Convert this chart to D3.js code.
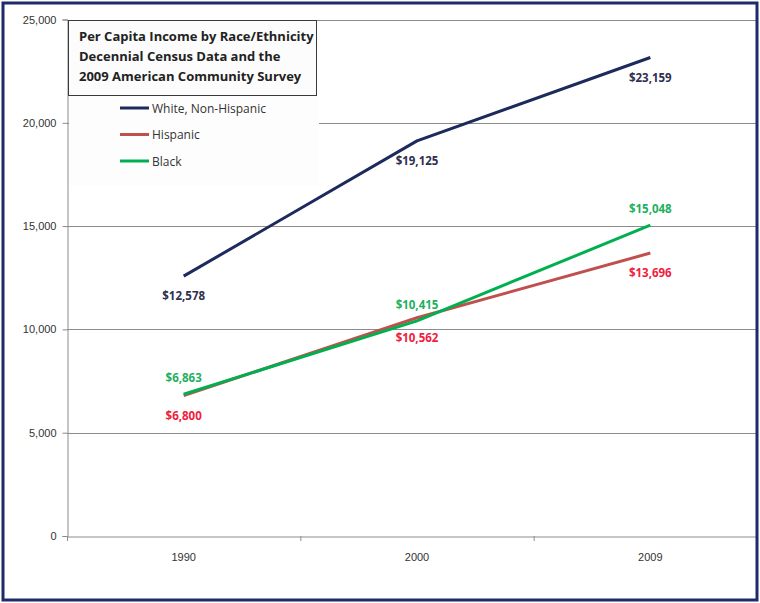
<!DOCTYPE html>
<html>
<head>
<meta charset="utf-8">
<script src="https://cdn.jsdelivr.net/npm/d3@7"></script>
<style>
  html, body { margin: 0; padding: 0; background: #fff; }
  svg { display: block; font-family: "Open Sans", Lato, sans-serif; }
</style>
</head>
<body>
<svg id="chart" width="760" height="603"></svg>
<script>
// Per capita income by race/ethnicity
const years = ["1990", "2000", "2009"];
const white = [12578, 19125, 23159];
const hispanic = [6800, 10562, 13696];
const black = [6863, 10415, 15048];
const yTicks = [0, 5000, 10000, 15000, 20000, 25000];
const seriesNames = ["White, Non-Hispanic", "Hispanic", "Black"];
const titleLines = [
  "Per Capita Income by Race/Ethnicity",
  "Decennial Census Data and the",
  "2009 American Community  Survey"
];

const svg = d3.select("#chart");
const W = 760, H = 603;
const plot = { left: 67, right: 767, top: 19.5, bottom: 536 };

const series = [
  { name: seriesNames[0], values: white, color: "#1c2a5c", label: "#2e3050", labelDy: 24 },
  { name: seriesNames[1], values: hispanic, color: "#c0504d", label: "#f0203c", labelDy: 24 },
  { name: seriesNames[2], values: black, color: "#00b050", label: "#1fb060", labelDy: -12 }
];

const x = d3.scaleBand().domain(years).range([plot.left, plot.right]);
const y = d3.scaleLinear().domain([0, 25000]).range([plot.bottom, plot.top]);

svg.append("defs").append("clipPath").attr("id", "frame")
  .append("rect").attr("x", 4).attr("y", 4).attr("width", W - 8).attr("height", H - 8);

const g = svg.append("g").attr("clip-path", "url(#frame)");

// horizontal gridlines
g.append("g").selectAll("line").data(yTicks.filter(d => d > 0)).join("line")
  .attr("x1", plot.left).attr("x2", plot.right)
  .attr("y1", d => Math.round(y(d)) + 0.5).attr("y2", d => Math.round(y(d)) + 0.5)
  .attr("stroke", "#8c8c8c").attr("stroke-width", 1);

// y axis
const yAxis = g.append("g").attr("transform", `translate(${plot.left + 0.5},0)`)
  .call(d3.axisLeft(y).tickValues(yTicks).tickSize(5).tickPadding(6)
    .tickFormat(d3.format(",")));
yAxis.select(".domain").attr("stroke", "#8c8c8c");
yAxis.selectAll(".tick line").attr("stroke", "#8c8c8c");
yAxis.selectAll("text").attr("font-size", 11).attr("fill", "#333");

// x axis
const xAxis = g.append("g").attr("transform", `translate(0,${Math.round(plot.bottom) + 0.5})`)
  .call(d3.axisBottom(x).tickSize(0).tickPadding(17));
xAxis.select(".domain").attr("stroke", "#8c8c8c");
xAxis.selectAll("text").attr("font-size", 11).attr("fill", "#333");
// category boundary ticks
g.append("g").selectAll("line").data(years).join("line")
  .attr("x1", d => x(d) + 0.5).attr("x2", d => x(d) + 0.5)
  .attr("y1", plot.bottom).attr("y2", plot.bottom + 5)
  .attr("stroke", "#8c8c8c");

// lines
const line = d3.line().x((d, i) => x(years[i]) + x.bandwidth() / 2).y(d => y(d));
series.forEach(s => {
  g.append("path").datum(s.values)
    .attr("d", line).attr("fill", "none")
    .attr("stroke", s.color).attr("stroke-width", 3)
    .attr("stroke-linejoin", "round");
});

// value labels
const money = v => "$" + d3.format(",")(v);
series.forEach(s => {
  g.append("g").selectAll("text").data(s.values).join("text")
    .attr("x", (d, i) => x(years[i]) + x.bandwidth() / 2)
    .attr("y", d => y(d) + s.labelDy)
    .attr("text-anchor", "middle")
    .attr("font-size", 11.5).attr("font-weight", "bold")
    .attr("fill", s.label)
    .text(d => money(d));
});

// legend backdrop
g.append("rect").attr("x", 69).attr("y", 96).attr("width", 250).attr("height", 90)
  .attr("fill", "#fdfdfd");

// title box
g.append("rect").attr("x", 68.5).attr("y", 20.5).attr("width", 248).attr("height", 75)
  .attr("fill", "#fcfcfc").attr("stroke", "#3a3a3a").attr("stroke-width", 1);
g.append("g").selectAll("text").data(titleLines).join("text")
  .attr("x", 79).attr("y", (d, i) => 41 + i * 20)
  .attr("font-size", 13).attr("font-weight", "bold").attr("fill", "#222")
  .text(d => d);

// legend
const leg = g.append("g").selectAll("g").data(series).join("g")
  .attr("transform", (d, i) => `translate(120,${108 + i * 26.5})`);
leg.append("line").attr("x1", 0).attr("x2", 29).attr("y1", 0).attr("y2", 0)
  .attr("stroke", d => d.color).attr("stroke-width", 3);
leg.append("text").attr("x", 32).attr("y", 4.5)
  .attr("font-size", 12).attr("fill", "#333").text(d => d.name);

// outer frame
svg.append("rect").attr("x", 3).attr("y", 3).attr("width", W - 6).attr("height", H - 6)
  .attr("fill", "none").attr("stroke", "#1d2b6b").attr("stroke-width", 3);
</script>
</body>
</html>
